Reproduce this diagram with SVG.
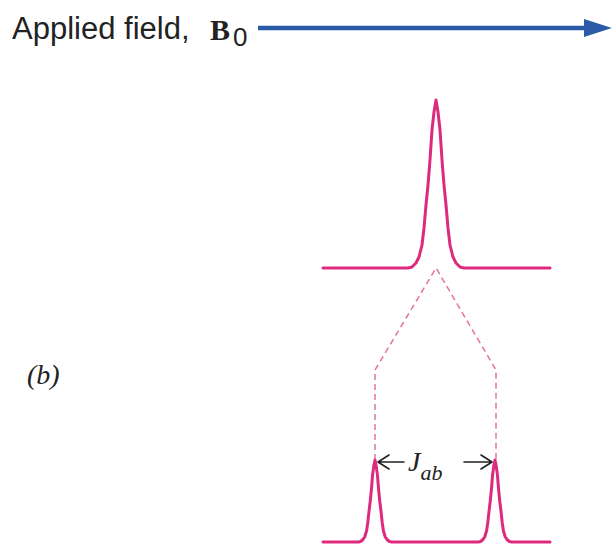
<svg xmlns="http://www.w3.org/2000/svg" width="615" height="546" viewBox="0 0 615 546">
<style>
.sans{font-family:"Liberation Sans",Arial,sans-serif;fill:#222}
.serif{font-family:"Liberation Serif","Times New Roman",serif;fill:#222}
.spec{fill:none;stroke:#de2a7e;stroke-width:3;stroke-linejoin:round;stroke-linecap:round}
.dash{fill:none;stroke:#e8739f;stroke-width:1.5;stroke-dasharray:6 4}
.dim{fill:none;stroke:#222;stroke-width:1.6;stroke-linecap:round;stroke-linejoin:round}
</style>
<defs>
<marker id="bluehead" markerWidth="7" markerHeight="4" refX="0" refY="2" orient="auto" markerUnits="strokeWidth">
<path d="M0,0 L6.2,2 L0,4 Z" fill="#2b5aa6"/>
</marker>
</defs>
<rect width="615" height="546" fill="#ffffff"/>
<g id="field-label">
<text class="sans" x="12" y="38.5" font-size="31">Applied field,</text>
<text class="serif" x="210" y="40" font-size="30" font-weight="bold">B</text>
<text class="sans" x="233" y="46" font-size="26">0</text>
</g>
<g id="field-arrow">
<line x1="258" y1="28" x2="584" y2="28" stroke="#2b5aa6" stroke-width="4.5" marker-end="url(#bluehead)"/>
</g>
<g id="peak-top">
<path class="spec" d="M323,268 L408,268 L412,267 L416,263 L419,257 L422,245 L424,228 L426,205 L428,185 L430,160 L432,130 L434,112 L436,100 L438,112 L440,130 L442,160 L444,185 L446,205 L448,228 L450,245 L453,257 L456,263 L460,267 L464,268 L550,268"/>
</g>
<g id="connectors">
<polyline class="dash" points="375,460 375,370 436,268 496,370 496,460"/>
</g>
<g id="peaks-bottom">
<path class="spec" d="M323,542 L358.2,542 L360.6,541.5 L363,539.5 L364.8,536.7 L366.6,530.8 L367.8,522.5 L369,511.3 L370.2,501.5 L371.4,489.3 L372.6,474.6 L373.8,465.9 L375,460 L376.2,465.9 L377.4,474.6 L378.6,489.3 L379.8,501.5 L381,511.3 L382.2,522.5 L383.4,530.8 L385.2,536.7 L387,539.5 L389.4,541.5 L391.8,542 L478.2,542 L480.6,541.5 L483,539.5 L484.8,536.7 L486.6,530.8 L487.8,522.5 L489,511.3 L490.2,501.5 L491.4,489.3 L492.6,474.6 L493.8,465.9 L495,460 L496.2,465.9 L497.4,474.6 L498.6,489.3 L499.8,501.5 L501,511.3 L502.2,522.5 L503.4,530.8 L505.2,536.7 L507,539.5 L509.4,541.5 L511.8,542 L550,542"/>
</g>
<g id="jab">
<path class="dim" d="M378,462 L404,462 M389,455 L378,462 L389,469"/>
<path class="dim" d="M464,462 L492,462 M481,455 L492,462 L481,469"/>
<text class="serif" font-style="italic" x="408" y="471" font-size="28">J<tspan dy="9" font-size="22">ab</tspan></text>
</g>
<g id="label-b">
<text class="serif" font-style="italic" x="27" y="384" font-size="28">(b)</text>
</g>
</svg>
